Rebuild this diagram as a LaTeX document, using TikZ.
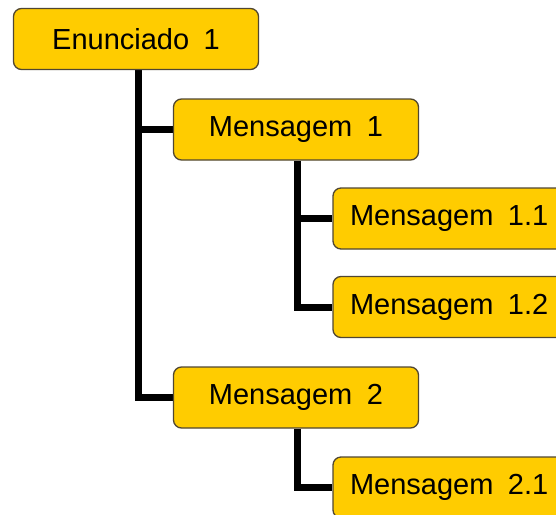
\documentclass[tikz,border=0pt]{standalone}
\usepackage{fontspec}
\setmainfont{Liberation Sans}
\pgfdeclarelayer{bg}
\pgfsetlayers{bg,main}
\definecolor{boxfill}{RGB}{255,204,0}
\definecolor{boxline}{RGB}{80,70,50}
\tikzset{
  orgbox/.style={draw=boxline, line width=1.3pt, fill=boxfill, rounded corners=8pt,
    minimum width=245pt, minimum height=61pt, inner sep=0pt,
    font=\fontsize{29}{31}\selectfont, text=black},
  leafbox/.style={orgbox, text width=211pt, inner xsep=17pt, align=left},
  conn/.style={line width=7pt, draw=black, line join=miter}
}
\begin{document}
\begin{tikzpicture}[x=1pt,y=1pt]
\useasboundingbox (0,0) rectangle (556,-514);
\clip (0,0) rectangle (556,-514);
\node[orgbox] (e) at (136,-39) {Enunciado\hspace{0.5em}1};
\node[orgbox] (m1) at (296,-129.5) {Mensagem\hspace{0.5em}1};
\node[leafbox] (m11) at (455.5,-218.5) {Mensagem\hspace{0.5em}1.1};
\node[leafbox] (m12) at (455.5,-307) {Mensagem\hspace{0.5em}1.2};
\node[orgbox] (m2) at (296,-397.5) {Mensagem\hspace{0.5em}2};
\node[leafbox] (m21) at (455.5,-487.5) {Mensagem\hspace{0.5em}2.1};
\begin{pgfonlayer}{bg}
\draw[conn] ([xshift=2pt]e.south) |- (m2.west);
\draw[conn] ([xshift=2pt]e.south |- m1.west) -- (m1.west);
\draw[conn] ([xshift=1pt]m1.south) |- (m12.west);
\draw[conn] ([xshift=1pt]m1.south |- m11.west) -- (m11.west);
\draw[conn] ([xshift=1pt]m2.south) |- (m21.west);
\end{pgfonlayer}
\end{tikzpicture}
\end{document}
